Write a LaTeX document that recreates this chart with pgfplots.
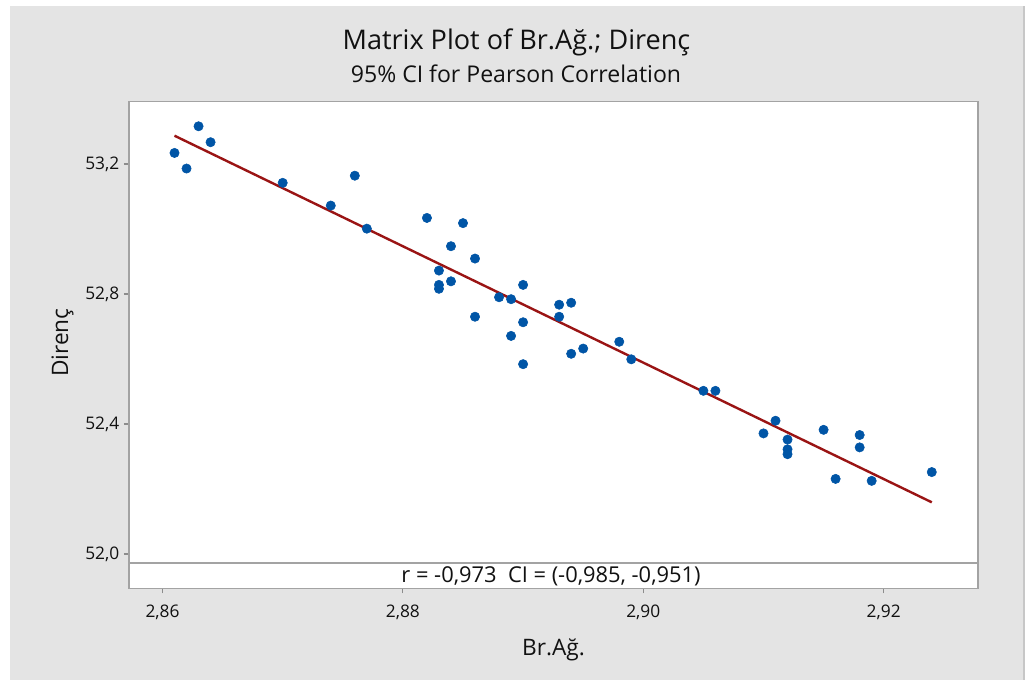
\documentclass[border=0pt]{standalone}
\usepackage{fontspec}
\setmainfont{Open Sans}
\usepackage{pgfplots}
\pgfplotsset{compat=1.18}
\definecolor{bggray}{HTML}{E4E4E4}
\definecolor{framegray}{HTML}{A3A3A3}
\definecolor{tickgray}{HTML}{8C8C8C}
\definecolor{mtblue}{HTML}{0055A6}
\definecolor{mtred}{HTML}{9A1414}
\definecolor{txt}{HTML}{111111}

\pgfplotstableread{
x y
2.861 53.234
2.862 53.186
2.863 53.316
2.864 53.267
2.870 53.142
2.874 53.072
2.876 53.164
2.877 53.001
2.882 53.034
2.885 53.018
2.884 52.947
2.886 52.909
2.883 52.872
2.883 52.828
2.883 52.816
2.884 52.839
2.886 52.730
2.888 52.790
2.889 52.784
2.890 52.828
2.890 52.713
2.889 52.671
2.890 52.584
2.893 52.767
2.894 52.773
2.893 52.730
2.894 52.616
2.895 52.632
2.898 52.653
2.899 52.599
2.905 52.502
2.906 52.502
2.910 52.371
2.911 52.410
2.912 52.352
2.912 52.322
2.912 52.307
2.915 52.382
2.916 52.231
2.918 52.366
2.918 52.328
2.919 52.225
2.924 52.252
}\datatable

\begin{document}
\begin{tikzpicture}
% background
\fill[white] (-96.75pt,-68.625pt) rectangle (672.75pt,441.375pt);
\fill[bggray] (-89.25pt,-68.625pt) rectangle (670.5pt,436.875pt);
\draw[color=black!22, line width=1.2pt] (671.4pt,-68.625pt) -- (671.4pt,436.875pt);

\begin{axis}[
  at={(0pt,0pt)}, anchor=south west,
  scale only axis,
  width=636.75pt, height=365.25pt,
  xmin=2.857213, xmax=2.927845,
  ymin=51.8938, ymax=53.3923,
  axis background/.style={fill=white},
  axis line style={framegray, line width=1.4pt},
  xtick={2.86,2.88,2.90,2.92},
  ytick={52.0,52.4,52.8,53.2},
  scaled x ticks=false, scaled y ticks=false,
  tick align=outside,
  xtick pos=bottom, ytick pos=left,
  major tick length=3.75pt,
  tick style={tickgray, line width=0.8pt},
  x tick label style={/pgf/number format/fixed, /pgf/number format/fixed zerofill,
    /pgf/number format/precision=2, /pgf/number format/use comma,
    /pgf/number format/assume math mode=true},
  y tick label style={/pgf/number format/fixed, /pgf/number format/fixed zerofill,
    /pgf/number format/precision=1, /pgf/number format/use comma,
    /pgf/number format/assume math mode=true},
  tick label style={font=\fontsize{13}{15}\selectfont, text=txt},
  xticklabel shift=4.8pt,
  xlabel={Br.Ağ.},
  xlabel style={font=\fontsize{17}{20}\selectfont, text=txt, at={(axis description cs:0.5,-0.1386)}, anchor=base},
  ylabel={Direnç},
  ylabel style={font=\fontsize{17}{20}\selectfont, text=txt, at={(axis description cs:-0.0718,0.505)}, anchor=base, rotate=0},
]
\addplot[mtred, line width=1.8pt] coordinates {(2.861,53.287) (2.924,52.159)};
\addplot[only marks, mark=*, mark size=3.5pt, color=mtblue, mark options={draw=mtblue, fill=mtblue}] table[x=x, y=y] {\datatable};
\draw[framegray, line width=1.2pt] (axis cs:2.857213,51.9714) -- (axis cs:2.927845,51.9714);
\node[anchor=base, font=\fontsize{16.4}{19}\selectfont, text=txt] at (axis cs:2.89232,51.913) {r = -0,973 \ CI = (-0,985, -0,951)};
\end{axis}

\node[anchor=base, font=\fontsize{20.3}{24}\selectfont, text=txt] at (290.6pt,403.9pt) {Matrix Plot of Br.Ağ.; Direnç};
\node[anchor=base, font=\fontsize{17.3}{20}\selectfont, text=txt] at (290.25pt,379.5pt) {95\% CI for Pearson Correlation};

\pgfresetboundingbox
\path (-96.75pt,-68.625pt) rectangle (672.75pt,441.375pt);
\end{tikzpicture}
\end{document}
